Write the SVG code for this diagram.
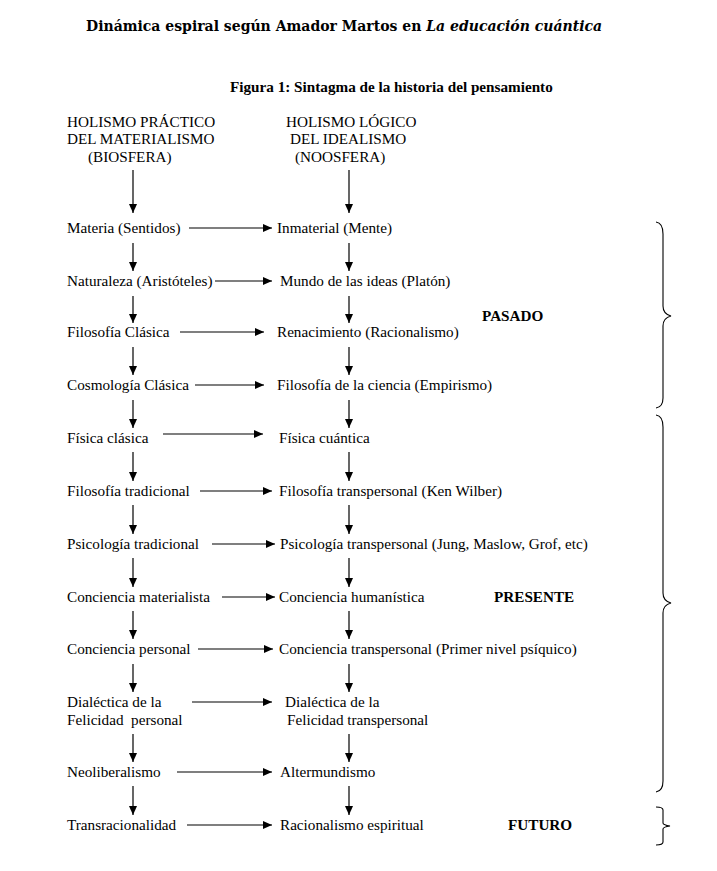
<svg xmlns="http://www.w3.org/2000/svg" width="717" height="871" viewBox="0 0 717 871">
<style>
text{font-family:"Liberation Serif","Times New Roman",serif;font-size:15.2px;fill:#000}
.title{font-family:"DejaVu Serif","Liberation Serif",serif;font-size:14px;font-weight:bold}
.fig{font-weight:bold;font-size:15.2px}
.lbl{font-weight:bold;font-size:15.2px}
.pre{white-space:pre}
.c line{stroke:#000;stroke-width:1.2;marker-end:url(#ah)}
.brace{fill:none;stroke:#000;stroke-width:1.1}
</style>
<defs>
<marker id="ah" markerUnits="userSpaceOnUse" markerWidth="10" markerHeight="8" refX="9" refY="4" orient="auto">
<path d="M0,0 L9,4 L0,8 Z" fill="#000"/>
</marker>
</defs>
<rect width="717" height="871" fill="#fff"/>
<text class="title" x="86" y="31">Dinámica espiral según Amador Martos en <tspan font-style="italic">La educación cuántica</tspan></text>
<text class="fig" x="230" y="92">Figura 1: Sintagma de la historia del pensamiento</text>

<g id="h-left"><text x="67" y="127">HOLISMO PRÁCTICO</text><text x="67" y="144">DEL MATERIALISMO</text><text x="88" y="162">(BIOSFERA)</text></g>
<g id="h-right"><text x="286" y="127">HOLISMO LÓGICO</text><text x="290" y="144">DEL IDEALISMO</text><text x="295" y="162">(NOOSFERA)</text></g>

<g id="l1"><text x="67" y="233">Materia (Sentidos)</text></g>
<g id="r1"><text x="277" y="233">Inmaterial (Mente)</text></g>
<g id="l2"><text x="67" y="286">Naturaleza (Aristóteles)</text></g>
<g id="r2"><text x="280" y="286">Mundo de las ideas (Platón)</text></g>
<g id="l3"><text x="67" y="337">Filosofía Clásica</text></g>
<g id="r3"><text x="277" y="337">Renacimiento (Racionalismo)</text></g>
<g id="l4"><text x="67" y="390">Cosmología Clásica</text></g>
<g id="r4"><text x="277" y="390">Filosofía de la ciencia (Empirismo)</text></g>
<g id="l5"><text x="67" y="443">Física clásica</text></g>
<g id="r5"><text x="279" y="443">Física cuántica</text></g>
<g id="l6"><text x="67" y="496">Filosofía tradicional</text></g>
<g id="r6"><text x="279" y="496">Filosofía transpersonal (Ken Wilber)</text></g>
<g id="l7"><text x="67" y="549">Psicología tradicional</text></g>
<g id="r7"><text x="280" y="549">Psicología transpersonal (Jung, Maslow, Grof, etc)</text></g>
<g id="l8"><text x="67" y="602">Conciencia materialista</text></g>
<g id="r8"><text x="279" y="602">Conciencia humanística</text></g>
<g id="l9"><text x="67" y="654">Conciencia personal</text></g>
<g id="r9"><text x="279" y="654">Conciencia transpersonal (Primer nivel psíquico)</text></g>
<g id="l10"><text x="67" y="707">Dialéctica de la</text><text class="pre" x="67" y="725">Felicidad  personal</text></g>
<g id="r10"><text x="285" y="707">Dialéctica de la</text><text x="287" y="725">Felicidad transpersonal</text></g>
<g id="l11"><text x="67" y="777">Neoliberalismo</text></g>
<g id="r11"><text x="280" y="777">Altermundismo</text></g>
<g id="l12"><text x="67" y="830">Transracionalidad</text></g>
<g id="r12"><text x="280" y="830">Racionalismo espiritual</text></g>

<g id="pasado"><text class="lbl" x="482" y="321">PASADO</text></g>
<g id="presente"><text class="lbl" x="494" y="602">PRESENTE</text></g>
<g id="futuro"><text class="lbl" x="508" y="830">FUTURO</text></g>

<g id="braces">
<path class="brace" d="M656,222 Q663,223 663,234 L663,306 Q663,314 671,316 Q663,318 663,326 L663,398 Q663,407 656,408"/>
<path class="brace" d="M656,415 Q663,416 663,427 L663,593 Q663,601 671,603 Q663,605 663,613 L663,781 Q663,791 656,792"/>
<path class="brace" d="M656,807 Q663,807 663,810 L663,823 Q663,825 670,826 Q663,827 663,829 L663,842 Q663,845 656,845"/>
</g>

<g id="connectors" class="c">
<line x1="133" y1="170" x2="133" y2="213"/>
<line x1="349" y1="170" x2="349" y2="213"/>
<line x1="133" y1="243" x2="133" y2="271"/>
<line x1="349" y1="243" x2="349" y2="271"/>
<line x1="133" y1="296" x2="133" y2="323"/>
<line x1="349" y1="296" x2="349" y2="323"/>
<line x1="133" y1="347" x2="133" y2="375"/>
<line x1="349" y1="347" x2="349" y2="375"/>
<line x1="133" y1="400" x2="133" y2="428"/>
<line x1="349" y1="400" x2="349" y2="428"/>
<line x1="133" y1="452" x2="133" y2="481"/>
<line x1="349" y1="452" x2="349" y2="481"/>
<line x1="133" y1="505" x2="133" y2="534"/>
<line x1="349" y1="505" x2="349" y2="534"/>
<line x1="133" y1="558" x2="133" y2="587"/>
<line x1="349" y1="558" x2="349" y2="587"/>
<line x1="133" y1="611" x2="133" y2="639"/>
<line x1="349" y1="611" x2="349" y2="639"/>
<line x1="133" y1="664" x2="133" y2="692"/>
<line x1="349" y1="664" x2="349" y2="692"/>
<line x1="133" y1="734" x2="133" y2="762"/>
<line x1="349" y1="734" x2="349" y2="762"/>
<line x1="133" y1="786" x2="133" y2="815"/>
<line x1="349" y1="786" x2="349" y2="815"/>

<line x1="189" y1="228" x2="272" y2="228"/>
<line x1="215" y1="281" x2="272" y2="281"/>
<line x1="180" y1="332" x2="264" y2="332"/>
<line x1="195" y1="385" x2="264" y2="385"/>
<line x1="163" y1="434" x2="263" y2="434"/>
<line x1="200" y1="491" x2="272" y2="491"/>
<line x1="212" y1="544" x2="275" y2="544"/>
<line x1="222" y1="597" x2="275" y2="597"/>
<line x1="198" y1="649" x2="273" y2="649"/>
<line x1="192" y1="702" x2="272" y2="702"/>
<line x1="177" y1="772" x2="272" y2="772"/>
<line x1="187" y1="825" x2="272" y2="825"/>
</g>
</svg>
